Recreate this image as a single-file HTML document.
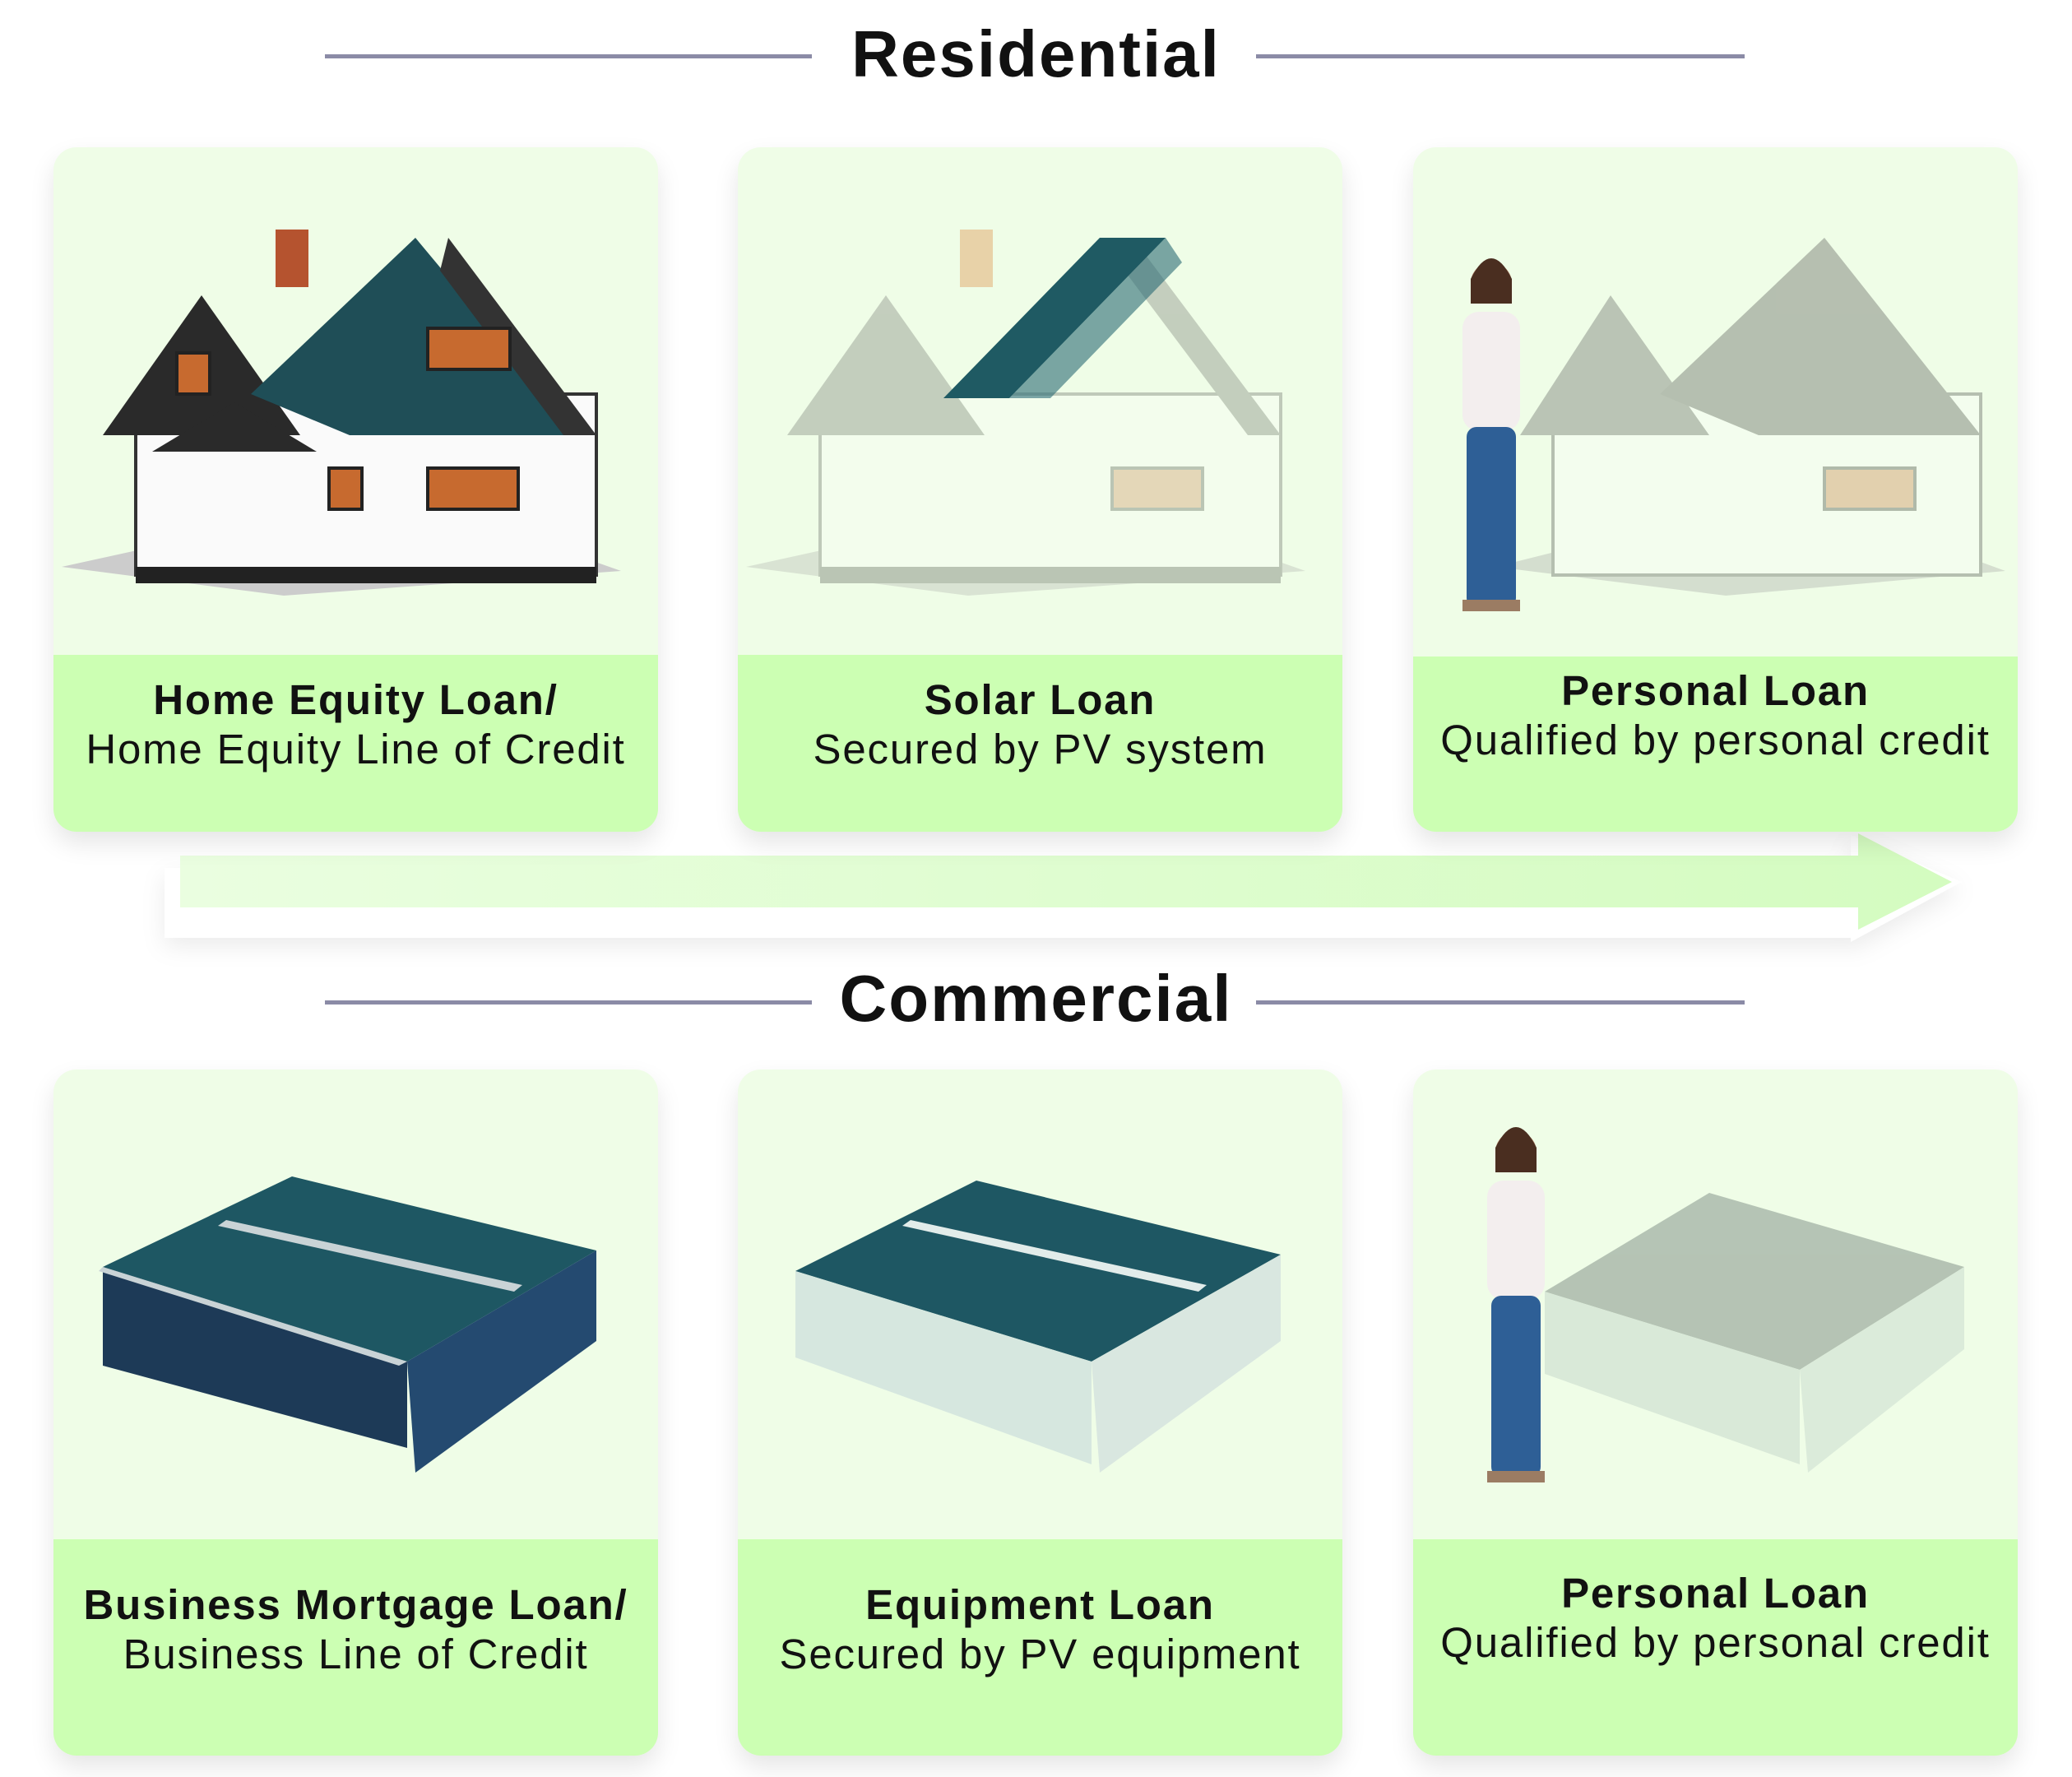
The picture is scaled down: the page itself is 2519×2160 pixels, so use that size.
<!DOCTYPE html>
<html><head><meta charset="utf-8"><style>
body{margin:0;width:2519px;height:2160px;background:#fff;position:relative;overflow:hidden;font-family:"Liberation Sans",sans-serif}
.t{position:absolute;left:0;width:2519px;text-align:center;font-weight:bold;font-size:80px;letter-spacing:2px;color:#111}
.ln{position:absolute;height:5px;background:#8b8ba6}
.card{position:absolute;width:735px;border-radius:28px;background:#effde7;overflow:hidden;box-shadow:0 14px 30px rgba(0,0,0,0.10)}
.band{position:absolute;left:0;right:0;bottom:0;background:#ccffb3;text-align:center;font-size:51px;letter-spacing:1.8px;color:#111;line-height:60px;white-space:nowrap}
.band b{font-weight:bold}
svg{position:absolute;left:0;top:0}
</style></head><body>
<div class="t" style="top:20px">Residential</div>
<div class="ln" style="left:395px;top:66px;width:592px"></div>
<div class="ln" style="left:1527px;top:66px;width:594px"></div>
<div class="t" style="top:1168px">Commercial</div>
<div class="ln" style="left:395px;top:1216px;width:592px"></div>
<div class="ln" style="left:1527px;top:1216px;width:594px"></div>

<svg width="2519" height="2160" style="z-index:0">
<defs><linearGradient id="ag" x1="0" x2="1"><stop offset="0" stop-color="#eafee0"/><stop offset="1" stop-color="#d4fcc0"/></linearGradient></defs>
<polygon points="200,1055 2250,1055 2250,1015 2385,1072 2250,1145 2250,1140 200,1140" fill="#fff" style="filter:drop-shadow(0 10px 14px rgba(0,0,0,0.08))"/>
<polygon points="219,1040 2259,1040 2259,1013 2373,1072 2259,1130 2259,1103 219,1103" fill="url(#ag)"/>
</svg>

<div class="card" style="left:65px;top:179px;height:832px">
<svg width="735" height="620"><g>
<polygon points="10,510 420,420 690,515 280,545" fill="#ccc"/>
<rect x="100" y="300" width="560" height="220" fill="#fafafa" stroke="#333" stroke-width="4"/>
<polygon points="60,350 180,180 300,350" fill="#2a2a2a"/>
<polygon points="240,300 440,110 640,350 360,350" fill="#1f4e57"/>
<polygon points="480,110 660,350 620,350 470,150" fill="#333"/>
<rect x="270" y="100" width="40" height="70" fill="#b5532f"/>
<rect x="150" y="250" width="40" height="50" fill="#c76a2f" stroke="#222" stroke-width="4"/>
<rect x="455" y="220" width="100" height="50" fill="#c76a2f" stroke="#222" stroke-width="4"/>
<rect x="455" y="390" width="110" height="50" fill="#c76a2f" stroke="#222" stroke-width="4"/>
<rect x="335" y="390" width="40" height="50" fill="#c76a2f" stroke="#222" stroke-width="4"/>
<polygon points="120,370 220,310 320,370" fill="#2a2a2a"/>
<rect x="100" y="510" width="560" height="20" fill="#222"/>
</g></svg>
<div class="band" style="height:215px"><div style="margin-top:25px"><b>Home Equity Loan/</b><br>Home Equity Line of Credit</div></div>
</div>
<div class="card" style="left:897px;top:179px;height:832px">
<svg width="735" height="620"><g opacity="0.25">
<polygon points="10,510 420,420 690,515 280,545" fill="#999"/>
<rect x="100" y="300" width="560" height="220" fill="#fff" stroke="#333" stroke-width="4"/>
<polygon points="60,350 180,180 300,350" fill="#444"/>
<polygon points="480,110 660,350 620,350 470,150" fill="#444"/>
<rect x="455" y="390" width="110" height="50" fill="#c76a2f" stroke="#222" stroke-width="4"/>
<rect x="100" y="510" width="560" height="20" fill="#222"/>
</g>
<rect x="270" y="100" width="40" height="70" fill="#e8d2a8"/>
<polygon points="250,305 440,110 520,110 330,305" fill="#1f5a63"/>
<polygon points="330,305 520,110 540,140 380,305" fill="#2a6b74" opacity="0.6"/>
</svg>
<div class="band" style="height:215px"><div style="margin-top:25px"><b>Solar Loan</b><br>Secured by PV system</div></div>
</div>
<div class="card" style="left:1718px;top:179px;height:832px">
<svg width="735" height="620"><g opacity="0.3">
<polygon points="100,510 460,420 720,515 380,545" fill="#999"/>
<rect x="170" y="300" width="520" height="220" fill="#fff" stroke="#333" stroke-width="4"/>
<polygon points="130,350 240,180 360,350" fill="#444"/>
<polygon points="300,300 500,110 690,350 420,350" fill="#333"/>
<rect x="500" y="390" width="110" height="50" fill="#c76a2f" stroke="#222" stroke-width="4"/>
</g>
<circle cx="95" cy="165" r="25" fill="#b98b72"/><path d="M70,160 q25,-50 50,0 v30 h-50z" fill="#4a2e20"/>
<rect x="60" y="200" width="70" height="145" rx="20" fill="#f3eeee"/>
<rect x="65" y="340" width="60" height="220" rx="12" fill="#2e5f96"/>
<rect x="60" y="550" width="35" height="14" fill="#9b7c63"/><rect x="95" y="550" width="35" height="14" fill="#9b7c63"/>
</svg>
<div class="band" style="height:213px"><div style="margin-top:12px"><b>Personal Loan</b><br>Qualified by personal credit</div></div>
</div>

<div class="card" style="left:65px;top:1300px;height:834px">
<svg width="735" height="570">
<polygon points="60,240 290,130 660,220 430,355" fill="#1e5763"/>
<polygon points="60,240 430,355 430,460 60,360" fill="#1d3a57"/>
<polygon points="430,355 660,220 660,330 440,490" fill="#244a70"/>
<polygon points="60,240 430,355 420,360 55,245" fill="#c9d3d6"/>
<polygon points="200,190 560,270 570,262 210,183" fill="#c9d3d6"/>
</svg>
<div class="band" style="height:263px"><div style="margin-top:50px"><b>Business Mortgage Loan/</b><br>Business Line of Credit</div></div>
</div>
<div class="card" style="left:897px;top:1300px;height:834px">
<svg width="735" height="570">
<polygon points="70,245 290,135 660,225 430,355" fill="#1e5763"/>
<polygon points="70,245 430,355 430,480 70,350" fill="#d6e7df"/>
<polygon points="430,355 660,225 660,330 440,490" fill="#d9e7e0"/>
<polygon points="200,190 560,270 570,262 210,183" fill="#e2ecea"/>
</svg>
<div class="band" style="height:263px"><div style="margin-top:50px"><b>Equipment Loan</b><br>Secured by PV equipment</div></div>
</div>
<div class="card" style="left:1718px;top:1300px;height:834px">
<svg width="735" height="570">
<g opacity="0.45"><polygon points="160,270 360,150 670,240 470,365" fill="#6f7f78"/>
<polygon points="160,270 470,365 470,480 160,370" fill="#bfd1c6"/>
<polygon points="470,365 670,240 670,340 480,490" fill="#c5d6cc"/></g>
<circle cx="125" cy="100" r="25" fill="#b98b72"/><path d="M100,95 q25,-50 50,0 v30 h-50z" fill="#4a2e20"/>
<rect x="90" y="135" width="70" height="145" rx="20" fill="#f3eeee"/>
<rect x="95" y="275" width="60" height="220" rx="12" fill="#2e5f96"/>
<rect x="90" y="488" width="35" height="14" fill="#9b7c63"/><rect x="125" y="488" width="35" height="14" fill="#9b7c63"/>
</svg>
<div class="band" style="height:263px"><div style="margin-top:36px"><b>Personal Loan</b><br>Qualified by personal credit</div></div>
</div>
</body></html>
